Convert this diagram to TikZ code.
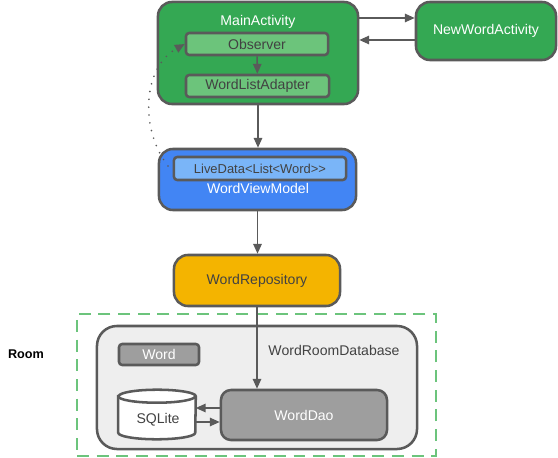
\documentclass[tikz,border=0pt]{standalone}
\usepackage{fontspec}
\setmainfont{Liberation Sans}
\usetikzlibrary{arrows.meta}
\definecolor{rim}{HTML}{5A5A5A}
\definecolor{ink}{HTML}{424242}
\definecolor{actgreen}{HTML}{34A853}
\definecolor{subgreen}{HTML}{6CC47B}
\definecolor{vmblue}{HTML}{4285F4}
\definecolor{subblue}{HTML}{7AB5F8}
\definecolor{repoyellow}{HTML}{F4B400}
\definecolor{daogray}{HTML}{9E9E9E}
\definecolor{dbgray}{HTML}{EEEEEE}
\definecolor{roomgreen}{HTML}{6CC47C}
\begin{document}
\begin{tikzpicture}[
  x=0.025cm, y=-0.025cm,
  every node/.style={font=\fontsize{10}{12}\selectfont},
  outer/.style={draw=rim, line width=1.8pt, rounded corners=0.35cm, inner sep=0pt},
  inner/.style={draw=rim, line width=1.8pt, rounded corners=0.08cm, inner sep=0pt},
  tag/.style={inner sep=0pt},
  arrow/.style={draw=rim, line width=1.1pt, -{Triangle[length=7pt, width=6pt]}},
  dotline/.style={draw=rim, line width=1.3pt, line cap=round, dash pattern=on 0pt off 5.6pt, -{Triangle[length=7pt, width=6pt]}}
]
\useasboundingbox (0,0) rectangle (558,458);
\node[outer, fill=actgreen, minimum width=5cm, minimum height=2.55cm] (main) at (258,53) {};
\node[tag, text=white] (mainlbl) at (258,22) {MainActivity};
\node[inner, fill=subgreen, text=ink, minimum width=3.55cm, minimum height=0.55cm] (obs) at (257,44) {Observer};
\node[inner, fill=subgreen, text=ink, minimum width=3.575cm, minimum height=0.55cm] (adapter) at (257.5,86) {WordListAdapter};
\node[outer, fill=actgreen, text=white, minimum width=3.5cm, minimum height=1.45cm] (newword) at (486,31) {NewWordActivity};
\node[outer, fill=vmblue, minimum width=4.925cm, minimum height=1.525cm] (vm) at (257.5,179.5) {};
\node[inner, fill=subblue, text=ink, font=\fontsize{9.2}{11}\selectfont, minimum width=4.3cm, minimum height=0.575cm] (live) at (260,168.5) {LiveData<List<Word>{}>};
\node[tag, text=white] (vmlbl) at (258,188) {WordViewModel};
\node[outer, fill=repoyellow, text=ink, minimum width=4.15cm, minimum height=1.275cm] (repo) at (257,280.5) {WordRepository};
\node[draw=roomgreen, line width=1.8pt, dash pattern=on 8.5pt off 5.5pt, minimum width=8.975cm, minimum height=3.55cm, inner sep=0pt] (room) at (256.5,385) {};
\node[tag, font=\fontsize{9}{11}\selectfont\bfseries] (roomlbl) at (26,354) {Room};
\node[outer, fill=dbgray, rounded corners=0.5cm, minimum width=8cm, minimum height=3.075cm] (db) at (257,387.5) {};
\node[tag, text=ink] (dblbl) at (334,350) {WordRoomDatabase};
\node[inner, fill=daogray, text=white, minimum width=2cm, minimum height=0.525cm] (word) at (159,354.5) {Word};
\node[outer, fill=daogray, text=white, rounded corners=0.25cm, minimum width=4.15cm, minimum height=1.25cm] (dao) at (304,415) {WordDao};
\node[minimum width=1.925cm, minimum height=1.225cm, inner sep=0pt] (sqlite) at (157,414.5) {};
\draw[rim, fill=white, line width=1.8pt] ([yshift=-0.1625cm]sqlite.north west) -- ([yshift=0.1625cm]sqlite.south west)
  arc[start angle=180, end angle=360, x radius=0.9625cm, y radius=0.1625cm]
  -- ([yshift=-0.1625cm]sqlite.north east)
  arc[start angle=0, end angle=180, x radius=0.9625cm, y radius=0.1625cm] -- cycle;
\draw[rim, line width=1.8pt] ([yshift=-0.1625cm]sqlite.north west)
  arc[start angle=180, end angle=360, x radius=0.9625cm, y radius=0.1625cm];
\node[tag, text=ink] (sqlitelbl) at (158,420) {SQLite};
\coordinate (dotstart) at (168,166);
\draw[arrow] (main.east |- 0,18) -- (newword.west |- 0,18);
\draw[arrow] (newword.west |- 0,40) -- (main.east |- 0,40);
\draw[arrow] (obs) -- (adapter);
\draw[arrow] (main.south) -- (main.south |- vm.north);
\draw[arrow] (vm.south) -- (vm.south |- repo.north);
\draw[arrow] (repo.south) -- (repo.south |- dao.north);
\draw[arrow] (dao.west |- 0,408) -- (sqlite.east |- 0,408);
\draw[arrow] (sqlite.east |- 0,422) -- (dao.west |- 0,422);
\draw[dotline] (dotstart) .. controls (140,130) and (142,68) .. (obs.west);
\end{tikzpicture}
\end{document}
